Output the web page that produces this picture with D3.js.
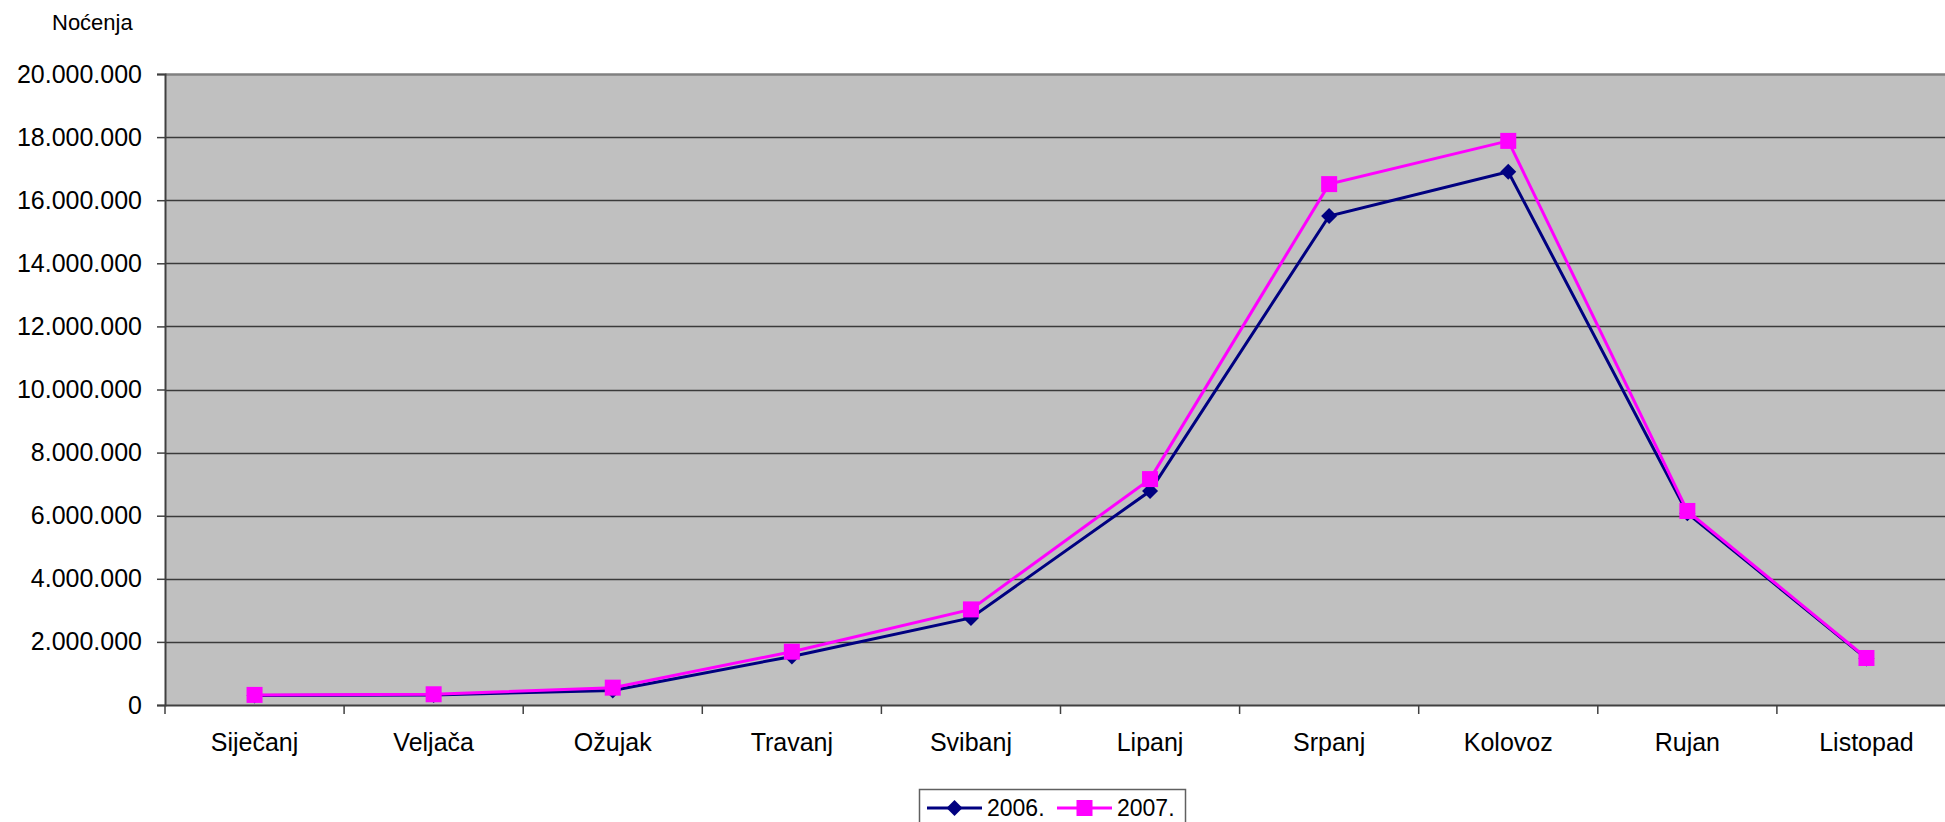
<!DOCTYPE html>
<html>
<head>
<meta charset="utf-8">
<script src="https://cdn.jsdelivr.net/npm/d3@7"></script>
<style>
  html, body { margin: 0; padding: 0; background: #fff; overflow: hidden; }
  svg { display: block; font-family: "Liberation Sans", Arial, sans-serif; }
</style>
</head>
<body>
<svg id="chart" width="1945" height="822"></svg>
<script>
const categories = ["Siječanj", "Veljača", "Ožujak", "Travanj", "Svibanj", "Lipanj", "Srpanj", "Kolovoz", "Rujan", "Listopad"];
const values2006 = [300000, 320000, 460000, 1540000, 2760000, 6780000, 15500000, 16900000, 6080000, 1470000];
const values2007 = [320000, 340000, 550000, 1690000, 3030000, 7160000, 16510000, 17880000, 6150000, 1490000];
const seriesNames = ["2006.", "2007."];
const yTicks = [0, 2000000, 4000000, 6000000, 8000000, 10000000, 12000000, 14000000, 16000000, 18000000, 20000000];
const yAxisTitle = "Noćenja";

(function () {
const svg = d3.select("#chart");
const pLeft = 165, pTop = 74, pBottom = 705, band = 179.1;
const pRight = pLeft + band * categories.length;

const x = d3.scaleBand().domain(categories).range([pLeft, pRight]).paddingInner(0).paddingOuter(0);
const y = d3.scaleLinear().domain([0, 20000000]).range([pBottom, pTop]);
const fmt = v => d3.format(",")(v).replace(/,/g, ".");

// plot area
svg.append("rect").attr("x", pLeft).attr("y", pTop).attr("width", pRight - pLeft).attr("height", pBottom - pTop)
  .attr("fill", "#C0C0C0");
svg.append("line").attr("x1", pLeft).attr("x2", pRight).attr("y1", pTop + 0.5).attr("y2", pTop + 0.5)
  .attr("stroke", "#808080").attr("stroke-width", 2.5);

// gridlines
svg.append("g").selectAll("line").data(yTicks.filter(t => t > 0 && t < 20000000)).join("line")
  .attr("x1", pLeft).attr("x2", pRight)
  .attr("y1", d => Math.round(y(d)) + 0.5).attr("y2", d => Math.round(y(d)) + 0.5)
  .attr("stroke", "#3a3a3a").attr("stroke-width", 1.3);

// y axis
const yAxis = d3.axisLeft(y).tickValues(yTicks).tickFormat(fmt).tickSize(8).tickPadding(15);
const gy = svg.append("g").attr("transform", `translate(${pLeft},0)`).call(yAxis);
gy.select(".domain").attr("stroke", "#404040").attr("stroke-width", 2);
gy.selectAll(".tick line").attr("stroke", "#404040").attr("stroke-width", 1.5);
gy.selectAll(".tick text").attr("font-size", 25).attr("fill", "#000")
  .attr("font-family", "Liberation Sans, Arial, sans-serif");

// x axis
const xAxis = d3.axisBottom(x).tickSize(0).tickPadding(28);
const gx = svg.append("g").attr("transform", `translate(0,${pBottom})`).call(xAxis);
gx.select(".domain").attr("stroke", "#404040").attr("stroke-width", 2);
gx.selectAll(".tick text").attr("font-size", 25).attr("fill", "#000")
  .attr("font-family", "Liberation Sans, Arial, sans-serif");
// category boundary ticks
const boundaries = d3.range(categories.length + 1).map(i => pLeft + i * x.bandwidth());
svg.append("g").selectAll("line").data(boundaries).join("line")
  .attr("x1", d => d).attr("x2", d => d).attr("y1", pBottom).attr("y2", pBottom + 9)
  .attr("stroke", "#404040").attr("stroke-width", 1.5);

// axis title
svg.append("text").attr("x", 52).attr("y", 30).attr("font-size", 22).attr("fill", "#000").text(yAxisTitle);

// series
const cx = d => x(d) + x.bandwidth() / 2;
const line = d3.line().x(d => cx(d.c)).y(d => y(d.v));
const s2006 = categories.map((c, i) => ({ c, v: values2006[i] }));
const s2007 = categories.map((c, i) => ({ c, v: values2007[i] }));

svg.append("path").datum(s2006).attr("d", line).attr("fill", "none").attr("stroke", "#000080").attr("stroke-width", 3);
svg.append("g").selectAll("path").data(s2006).join("path")
  .attr("transform", d => `translate(${cx(d.c)},${y(d.v)})`)
  .attr("d", "M0,-8L8,0L0,8L-8,0Z").attr("fill", "#000080");

svg.append("path").datum(s2007).attr("d", line).attr("fill", "none").attr("stroke", "#FF00FF").attr("stroke-width", 3);
svg.append("g").selectAll("rect").data(s2007).join("rect")
  .attr("x", d => cx(d.c) - 8).attr("y", d => y(d.v) - 8).attr("width", 16).attr("height", 16)
  .attr("fill", "#FF00FF");

// legend
const lg = svg.append("g");
lg.append("rect").attr("x", 919.5).attr("y", 789.5).attr("width", 266).attr("height", 45)
  .attr("fill", "#fff").attr("stroke", "#606060").attr("stroke-width", 1.5);
const legendItems = [
  { name: seriesNames[0], color: "#000080", shape: "diamond", x0: 927 },
  { name: seriesNames[1], color: "#FF00FF", shape: "square", x0: 1057 }
];
legendItems.forEach(it => {
  const ly = 808;
  lg.append("line").attr("x1", it.x0).attr("x2", it.x0 + 55).attr("y1", ly).attr("y2", ly)
    .attr("stroke", it.color).attr("stroke-width", 3);
  if (it.shape === "diamond") {
    lg.append("path").attr("transform", `translate(${it.x0 + 27.5},${ly})`).attr("d", "M0,-8L8,0L0,8L-8,0Z").attr("fill", it.color);
  } else {
    lg.append("rect").attr("x", it.x0 + 27.5 - 8).attr("y", ly - 8).attr("width", 16).attr("height", 16).attr("fill", it.color);
  }
  lg.append("text").attr("x", it.x0 + 60).attr("y", ly + 8).attr("font-size", 23).attr("fill", "#000").text(it.name);
});
})();
</script>
</body>
</html>
